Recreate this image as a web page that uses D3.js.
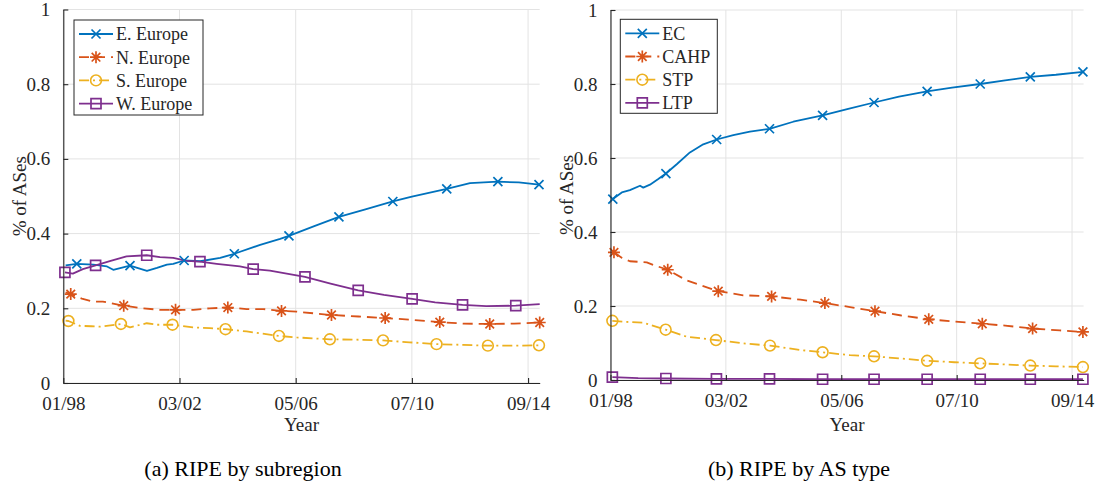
<!DOCTYPE html>
<html>
<head>
<meta charset="utf-8">
<script src="https://cdn.jsdelivr.net/npm/d3@7"></script>
<style>
  html, body { margin: 0; padding: 0; background: #fff; }
  svg { display: block; }
  svg text { font-family: "Liberation Serif", "DejaVu Serif", serif; fill: #262626; }
</style>
</head>
<body>
<svg id="chart" width="1097" height="489"></svg>
<script>
// ---------------- DATA ----------------
// x values are months since 01/1998
const xTickMonths = [0, 50, 100, 150, 200];
const xTickLabels = ["01/98", "03/02", "05/06", "07/10", "09/14"];
const yTicks = [0, 0.2, 0.4, 0.6, 0.8, 1];
const yTickLabels = ["0", "0.2", "0.4", "0.6", "0.8", "1"];

// (a) RIPE by subregion
const subregionNames = ["E. Europe", "N. Europe", "S. Europe", "W. Europe"];
const eEurope = [[1,0.315],[5.8,0.319],[12.9,0.317],[18.8,0.312],[21.5,0.303],[28.7,0.314],[36,0.300],[40.3,0.308],[44.6,0.317],[47.3,0.319],[52,0.328],[58.9,0.326],[67.5,0.335],[73.6,0.346],[84.7,0.370],[93.3,0.386],[97.1,0.394],[108,0.420],[118.6,0.445],[130,0.465],[141.8,0.486],[150,0.499],[165,0.520],[175,0.535],[187,0.539],[196,0.537],[204.7,0.531]];
const eEuropeMarks = [1,5,10,13,16,18,20,22,24,26];
const nEurope = [[1,0.243],[3.2,0.238],[8,0.226],[12.9,0.218],[17,0.218],[26,0.207],[34,0.200],[41.5,0.196],[48.3,0.196],[56,0.196],[63,0.200],[70.8,0.202],[78.9,0.198],[86,0.198],[93.9,0.193],[100.4,0.191],[115.4,0.182],[127,0.178],[138.5,0.174],[150,0.169],[162,0.163],[172,0.159],[183.5,0.158],[194,0.159],[205,0.162]];
const nEuropeMarks = [1,5,8,11,14,16,18,20,22,24];
const sEurope = [[1,0.167],[2.2,0.166],[7.2,0.153],[12,0.152],[15.8,0.151],[24.8,0.158],[28.7,0.149],[35.9,0.160],[40.2,0.156],[47,0.156],[55.8,0.149],[63.1,0.147],[69.8,0.144],[78.9,0.138],[92.8,0.126],[100.4,0.122],[114.7,0.117],[126,0.116],[137.6,0.114],[149,0.109],[160.6,0.104],[172,0.102],[182.7,0.100],[194,0.100],[204.7,0.101]];
const sEuropeMarks = [1,5,9,12,14,16,18,20,22,24];
const wEurope = [[0.7,0.296],[4.1,0.293],[8.4,0.305],[13.9,0.315],[20,0.326],[27.2,0.339],[35.9,0.342],[41.6,0.337],[47.3,0.335],[53.1,0.327],[58.8,0.325],[66,0.319],[76,0.312],[81.7,0.305],[88.9,0.301],[104,0.284],[115,0.266],[126.9,0.248],[138,0.236],[150.1,0.225],[160,0.216],[171.8,0.209],[182,0.206],[194.7,0.207],[205,0.211]];
const wEuropeMarks = [0,3,6,10,13,15,17,19,21,23];

// (b) RIPE by AS type
const typeNames = ["EC", "CAHP", "STP", "LTP"];
const ec = [[1,0.489],[4.9,0.507],[8.4,0.513],[12.8,0.525],[14.2,0.520],[17.1,0.528],[20.7,0.543],[24,0.558],[28.7,0.583],[34.4,0.615],[40.2,0.637],[46,0.650],[53.2,0.662],[60.4,0.671],[68.9,0.679],[79.2,0.698],[91.9,0.715],[103,0.733],[114.2,0.750],[125,0.766],[137.2,0.780],[148,0.790],[160.2,0.800],[171,0.810],[181.9,0.819],[193,0.825],[204.7,0.833]];
const ecMarks = [0,7,11,14,16,18,20,22,24,26];
const cahp = [[1.5,0.345],[5,0.330],[8.4,0.321],[15.7,0.318],[19,0.310],[24.8,0.298],[33,0.269],[46.7,0.240],[57.5,0.229],[69.8,0.226],[82.3,0.217],[92.9,0.208],[103.8,0.197],[114.6,0.186],[125.4,0.175],[137.9,0.164],[149,0.158],[161.1,0.152],[171,0.147],[182.9,0.139],[194.7,0.134],[204.7,0.130]];
const cahpMarks = [0,5,7,9,11,13,15,17,19,21];
const stp = [[0.8,0.160],[7,0.157],[14.2,0.155],[23.9,0.136],[33,0.117],[45.7,0.108],[57.5,0.099],[69.1,0.093],[82.3,0.081],[91.9,0.075],[103.8,0.067],[114.2,0.064],[126,0.058],[137.2,0.052],[149,0.048],[160.2,0.045],[171,0.042],[181.9,0.039],[193,0.037],[204.7,0.035]];
const stpMarks = [0,3,5,7,9,11,13,15,17,19];
const ltp = [[0.8,0.008],[12,0.005],[24,0.004],[45.9,0.003],[68.9,0.003],[91.9,0.002],[114.2,0.002],[137.2,0.002],[160.2,0.002],[181.9,0.002],[204.7,0.002]];
const ltpMarks = [0,2,3,4,5,6,7,8,9,10];

// ---------------- STYLE ----------------
const colors = ["#0072BD", "#D95319", "#EDB120", "#7E2F8E"];
const dashes = [null, "10,6", "10,4,2,4", null];
const markerTypes = ["x", "star", "circle", "square"];
const FONT = '"Liberation Serif", "DejaVu Serif", serif';

const svg = d3.select("#chart");
svg.append("rect").attr("width", 1097).attr("height", 489).attr("fill", "#fff");

function markerPath(type) {
  if (type === "x") return "M-4.5,-4.5L4.5,4.5M-4.5,4.5L4.5,-4.5";
  if (type === "star") return "M-6,0L6,0M0,-6L0,6M-4.3,-4.3L4.3,4.3M-4.3,4.3L4.3,-4.3";
  if (type === "square") return "M-5,-5H5V5H-5Z";
  return null;
}

function drawMarker(g, type, color, x, y) {
  if (type === "circle") {
    g.append("circle").attr("cx", x).attr("cy", y).attr("r", 5.4)
      .attr("fill", "none").attr("stroke", color).attr("stroke-width", 1.6);
  } else {
    g.append("path").attr("d", markerPath(type))
      .attr("transform", `translate(${x},${y})`)
      .attr("fill", "none").attr("stroke", color).attr("stroke-width", 1.7);
  }
}

function panel(cfg) {
  const x = d3.scaleLinear().domain([0, 205]).range([cfg.x0, cfg.x1]);
  const y = d3.scaleLinear().domain([0, 1]).range([cfg.y0, cfg.y1]);
  const g = svg.append("g").style("font-family", FONT);

  // grid
  const grid = g.append("g").attr("stroke", "#e3e3e3").attr("stroke-width", 1);
  yTicks.forEach(t => grid.append("line").attr("x1", x(0)).attr("x2", x(205))
    .attr("y1", y(t)).attr("y2", y(t)));
  xTickMonths.forEach(t => grid.append("line").attr("x1", x(t)).attr("x2", x(t))
    .attr("y1", y(0)).attr("y2", y(1)));

  // series
  const line = d3.line().x(d => x(d[0])).y(d => y(d[1]));
  cfg.series.forEach((s, i) => {
    g.append("path").datum(s.data).attr("d", line)
      .attr("fill", "none").attr("stroke", colors[i]).attr("stroke-width", 1.8)
      .attr("stroke-dasharray", dashes[i]).attr("stroke-linejoin", "round");
  });
  cfg.series.forEach((s, i) => {
    const mg = g.append("g");
    s.marks.forEach(k => drawMarker(mg, markerTypes[i], colors[i], x(s.data[k][0]), y(s.data[k][1])));
  });

  // axes (MATLAB style, ticks inside)
  const xAxis = d3.axisBottom(x).tickValues(xTickMonths).tickFormat((d, i) => xTickLabels[i])
    .tickSizeInner(-5).tickSizeOuter(0).tickPadding(14);
  const yAxis = d3.axisLeft(y).tickValues(yTicks).tickFormat((d, i) => yTickLabels[i])
    .tickSizeInner(-5).tickSizeOuter(0).tickPadding(13);
  const gx = g.append("g").attr("transform", `translate(0,${y(0)})`).call(xAxis);
  const gy = g.append("g").attr("transform", `translate(${x(0)},0)`).call(yAxis);
  [gx, gy].forEach(a => {
    a.attr("font-family", null).attr("font-size", null);
    a.selectAll("path,line").attr("stroke", "#262626").attr("stroke-width", 1.1);
    a.selectAll("text").style("font-family", FONT).style("font-size", "19px").attr("fill", "#262626");
  });

  // labels
  g.append("text").attr("x", (cfg.x0 + cfg.x1) / 2).attr("y", 431)
    .attr("text-anchor", "middle").style("font-size", "19px").text("Year");
  g.append("text").attr("transform", `translate(${cfg.x0 - 44},${(cfg.y0 + cfg.y1) / 2}) rotate(-90)`)
    .attr("text-anchor", "middle").attr("dy", "0.35em").style("font-size", "19px").text("% of ASes");
  g.append("text").attr("x", cfg.capX).attr("y", 476)
    .attr("text-anchor", "middle").style("font-size", "22px").style("fill", "#000").text(cfg.caption);

  // legend
  const L = cfg.legend;
  const lg = g.append("g");
  lg.append("rect").attr("x", L.x).attr("y", L.y).attr("width", L.w).attr("height", L.h)
    .attr("fill", "#fff").attr("stroke", "#262626").attr("stroke-width", 1);
  cfg.names.forEach((n, i) => {
    const yy = L.y + 14 + i * 23.2;
    lg.append("line").attr("x1", L.x + 5).attr("x2", L.x + 39).attr("y1", yy).attr("y2", yy)
      .attr("stroke", colors[i]).attr("stroke-width", 1.8).attr("stroke-dasharray", dashes[i]);
    drawMarker(lg, markerTypes[i], colors[i], L.x + 22, yy);
    lg.append("text").attr("x", L.x + 42).attr("y", yy).attr("dy", "0.35em")
      .style("font-size", "18px").text(n);
  });
}

panel({
  x0: 63.3, x1: 539.7, y0: 383, y1: 9.5,
  series: [
    { data: eEurope, marks: eEuropeMarks },
    { data: nEurope, marks: nEuropeMarks },
    { data: sEurope, marks: sEuropeMarks },
    { data: wEurope, marks: wEuropeMarks }
  ],
  names: subregionNames,
  legend: { x: 74, y: 20, w: 129, h: 95 },
  caption: "(a) RIPE by subregion", capX: 243
});

panel({
  x0: 610.5, x1: 1083.6, y0: 380, y1: 10,
  series: [
    { data: ec, marks: ecMarks },
    { data: cahp, marks: cahpMarks },
    { data: stp, marks: stpMarks },
    { data: ltp, marks: ltpMarks }
  ],
  names: typeNames,
  legend: { x: 620.3, y: 19.3, w: 97, h: 94 },
  caption: "(b) RIPE by AS type", capX: 799
});
</script>
</body>
</html>
